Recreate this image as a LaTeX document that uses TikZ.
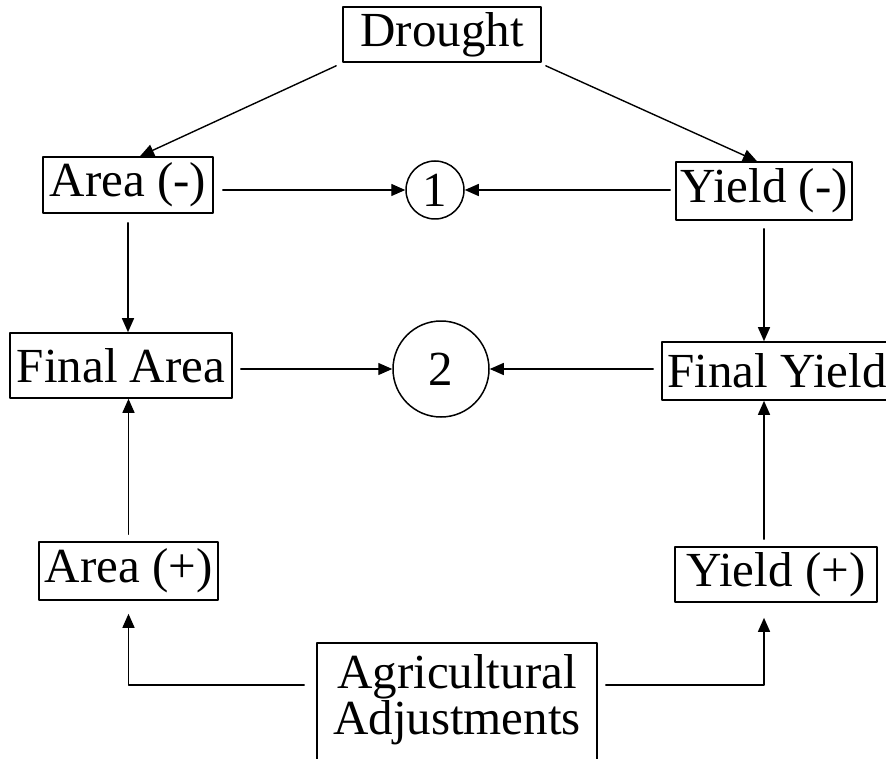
\documentclass[tikz,border=0pt]{standalone}
\usepackage{fontspec}
\setmainfont{Liberation Serif}
\usetikzlibrary{arrows.meta}
\begin{document}
\begin{tikzpicture}[x=1pt, y=-1pt, line join=round, line cap=round,
	font=\fontsize{49}{46}\selectfont, >={Triangle[length=14pt,width=12pt]},
	box/.style={draw, line width=1.6pt, inner sep=0pt},
	circ/.style={draw, circle, line width=1.5pt, inner sep=0pt},
	link/.style={->, line width=1.4pt}]
	\useasboundingbox (0,0) rectangle (886,759);
	% boxes
	\node[box, minimum width=198pt, minimum height=55pt] (drought) at (442,34.5) {Drought};
	\node[box, minimum width=170pt, minimum height=56pt] (areaM) at (128,185) {Area (-)};
	\node[circ, minimum size=58pt] (one) at (435,190) {1};
	\node[box, minimum width=176pt, minimum height=58pt] (yieldM) at (764,191) {Yield (-)};
	\node[box, minimum width=222pt, minimum height=65pt] (finalA) at (121,365.5) {Final Area};
	\node[circ, minimum size=96pt] (two) at (441,369) {2};
	\node[box, minimum width=230pt, minimum height=58pt] (finalY) at (777,371) {Final Yield};
	\node[box, minimum width=179pt, minimum height=58pt] (areaP) at (128.5,571) {Area (+)};
	\node[box, minimum width=202pt, minimum height=55pt] (yieldP) at (776,574.5) {Yield (+)};
	\node[box, align=center, anchor=north, minimum width=280pt, inner ysep=12pt] (agri) at (457,642)
		{Agricultural\\Adjustments\rule[-60pt]{0pt}{1pt}};
	\coordinate (hline) at (0,685);
	% arrows
	\draw[link] ([xshift=-6pt,yshift=-3pt]drought.south west) -- ([xshift=12pt]areaM.north);
	\draw[link] ([xshift=4pt,yshift=-3pt]drought.south east) -- ([xshift=-7pt]yieldM.north);
	\draw[link] ([xshift=9pt]areaM.east |- one.west) -- (one.west);
	\draw[link] ([xshift=-5pt]yieldM.west |- one.east) -- (one.east);
	\draw[link] ([yshift=-9pt]areaM.south) -- (areaM.south |- finalA.north);
	\draw[link] ([yshift=-8pt]yieldM.south) -- (yieldM.south |- finalY.north);
	\draw[link] ([xshift=8pt]finalA.east |- two.west) -- (two.west);
	\draw[link] ([xshift=-8pt]finalY.west |- two.east) -- (two.east);
	\draw[link] ([yshift=7pt]areaP.north) -- (areaP.north |- finalA.south);
	\draw[link] ([yshift=7pt]yieldM.south |- yieldP.north) -- (yieldM.south |- finalY.south);
	\draw[link] ([xshift=-12pt]agri.west |- hline) -| ([yshift=-13pt]areaP.south);
	\draw[link] ([xshift=8pt]agri.east |- hline) -| ([yshift=-15pt]yieldM.south |- yieldP.south);
\end{tikzpicture}
\end{document}
